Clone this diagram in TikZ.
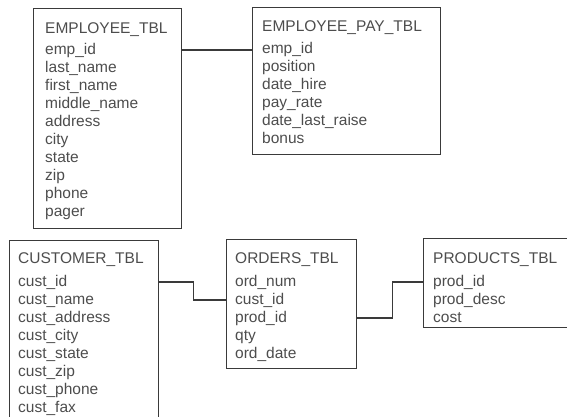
\documentclass[tikz,border=0pt]{standalone}
\usepackage{fontspec}
\setmainfont{Liberation Sans}
\definecolor{boxgray}{HTML}{3A3A3A}
\definecolor{textgray}{HTML}{4D4D4D}
\begin{document}
\begin{tikzpicture}[x=1pt,y=-1pt,
  tablebox/.style={draw=boxgray, line width=1.4pt, inner sep=0pt, anchor=north west},
  tabletitle/.style={anchor=base west, inner sep=0pt, text=textgray,
    font=\fontsize{15.5}{18}\selectfont},
  field/.style={tabletitle},
  link/.style={draw=boxgray, line width=1.4pt}]
\useasboundingbox (0,0) rectangle (567,416);
\clip (0,0) rectangle (567,416);

% ---- table frames
\node[tablebox, minimum width=148pt, minimum height=220pt] (emp)  at (33,8)   {};
\node[tablebox, minimum width=188pt, minimum height=147pt] (pay)  at (252,7)  {};
\node[tablebox, minimum width=149pt, minimum height=200pt] (cust) at (9,240)  {};
\node[tablebox, minimum width=130pt, minimum height=129pt] (ord)  at (226,239){};
\node[tablebox, minimum width=170pt, minimum height=89pt]  (prod) at (423,238){};

% ---- EMPLOYEE_TBL
\node[tabletitle] (emp-t) at (45,33) {EMPLOYEE\_TBL};
\foreach \f [count=\i] in {emp\_id, last\_name, first\_name, middle\_name,
    address, city, state, zip, phone, pager}
  \node[field] (emp-\i) at (45,{36+18*\i}) {\f};

% ---- EMPLOYEE_PAY_TBL
\node[tabletitle] (pay-t) at (262,31) {EMPLOYEE\_PAY\_TBL};
\foreach \f [count=\i] in {emp\_id, position, date\_hire, pay\_rate,
    date\_last\_raise, bonus}
  \node[field] (pay-\i) at (262,{35+18*\i}) {\f};

% ---- CUSTOMER_TBL
\node[tabletitle] (cust-t) at (18,263.5) {CUSTOMER\_TBL};
\foreach \f [count=\i] in {cust\_id, cust\_name, cust\_address, cust\_city,
    cust\_state, cust\_zip, cust\_phone, cust\_fax}
  \node[field] (cust-\i) at (18,{268+18*\i}) {\f};

% ---- ORDERS_TBL
\node[tabletitle] (ord-t) at (235,263.5) {ORDERS\_TBL};
\foreach \f [count=\i] in {ord\_num, cust\_id, prod\_id, qty, ord\_date}
  \node[field] (ord-\i) at (235,{268+18*\i}) {\f};

% ---- PRODUCTS_TBL
\node[tabletitle] (prod-t) at (433,263.5) {PRODUCTS\_TBL};
\foreach \f [count=\i] in {prod\_id, prod\_desc, cost}
  \node[field] (prod-\i) at (433,{268+18*\i}) {\f};

% ---- relationships
\draw[link] (emp.east |- emp-1) -- (pay.west |- emp-1);
\draw[link] (cust.east |- cust-1) -- ++(34,0) |- (ord.west |- ord-2);
\draw[link] (ord.east |- ord-3) -- ++(35,0) |- (prod.west |- prod-1);
\end{tikzpicture}
\end{document}
